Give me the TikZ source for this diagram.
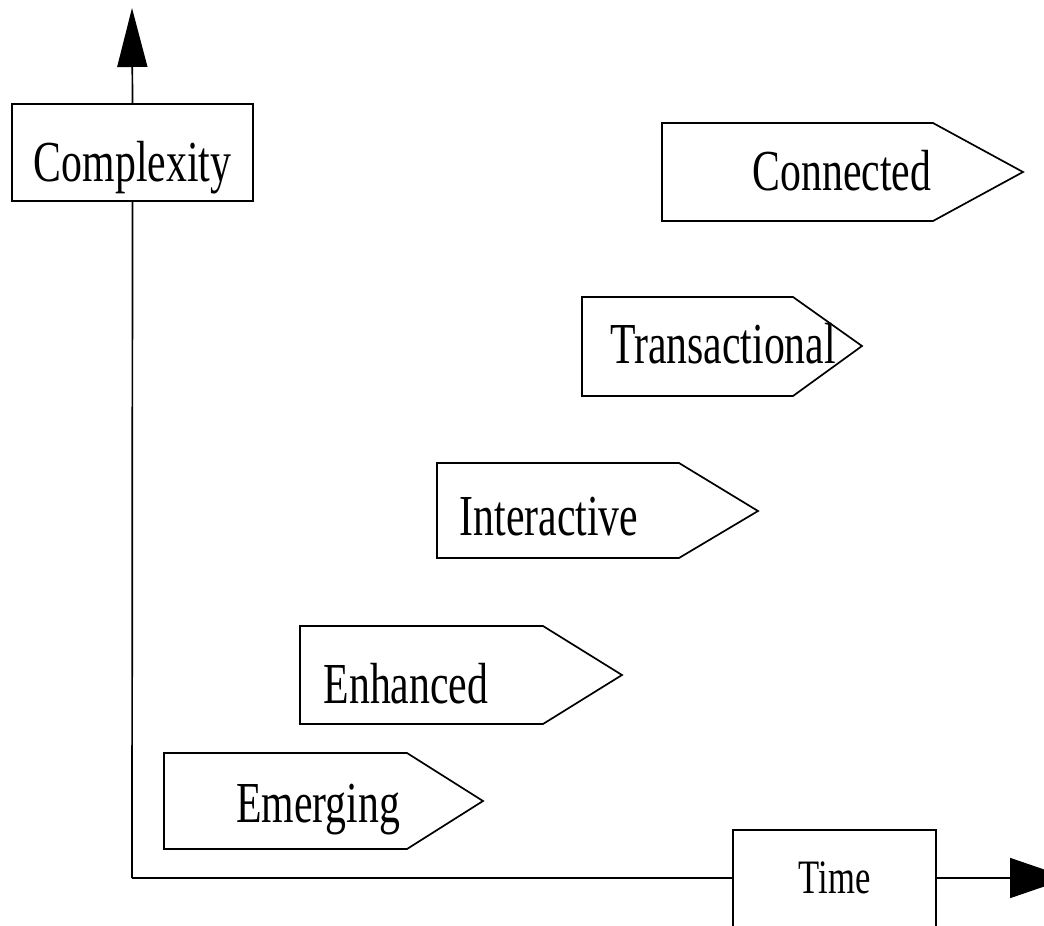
\documentclass[tikz,border=0pt]{standalone}
\usepackage{fontspec}
\setmainfont[FakeStretch=0.72]{Liberation Serif}
\usetikzlibrary{arrows.meta}

\begin{document}
\begin{tikzpicture}[x=1pt,y=-1pt,line width=1.7pt,
every node/.style={inner sep=0pt},
box/.style={draw,rectangle,fill=white},
stage/.style={font=\fontsize{58}{60}\selectfont,anchor=base},
up/.style={-{Triangle[length=59pt,width=30pt]}},
right/.style={-{Triangle[length=59pt,width=40pt]}}]
\useasboundingbox[clip] (0,0) rectangle (1044,926);
% axes
\coordinate (origin) at (132,878);
\coordinate (ytip) at (132,8);
\coordinate (xtip) at (1069,878);
\node[box,minimum width=241pt,text height=77pt,text depth=20pt,
  font=\fontsize{58}{60}\selectfont] (Complexity) at (132.5,152.5) {Complexity};
\node[box,minimum width=203pt,text height=63pt,text depth=45pt,anchor=base,
  font=\fontsize{48}{50}\selectfont] (Time) at (834.5,893) {Time};
\draw (origin) -- (Complexity.south);
\draw[up] (Complexity.north) -- (ytip);
\draw (origin) -- (origin -| Time.west);
\draw[right] (origin -| Time.east) -- (xtip);
% stages
\draw (164,753) -- (407,753) -- (483,801) -- (407,849) -- (164,849) -- cycle;
\node[stage] (Emerging) at (318,822) {Emerging};
\draw (300,626) -- (543,626) -- (622,675) -- (543,724) -- (300,724) -- cycle;
\node[stage] (Enhanced) at (406,703) {Enhanced};
\draw (437,463) -- (679,463) -- (758,511) -- (679,558) -- (437,558) -- cycle;
\node[stage] (Interactive) at (549,535) {Interactive};
\draw (582,297) -- (793,297) -- (862,346) -- (793,396) -- (582,396) -- cycle;
\node[stage] (Transactional) at (723,363) {Transactional};
\draw (662,123) -- (933,123) -- (1023,172) -- (933,221) -- (662,221) -- cycle;
\node[stage] (Connected) at (842,190) {Connected};
\end{tikzpicture}
\end{document}
